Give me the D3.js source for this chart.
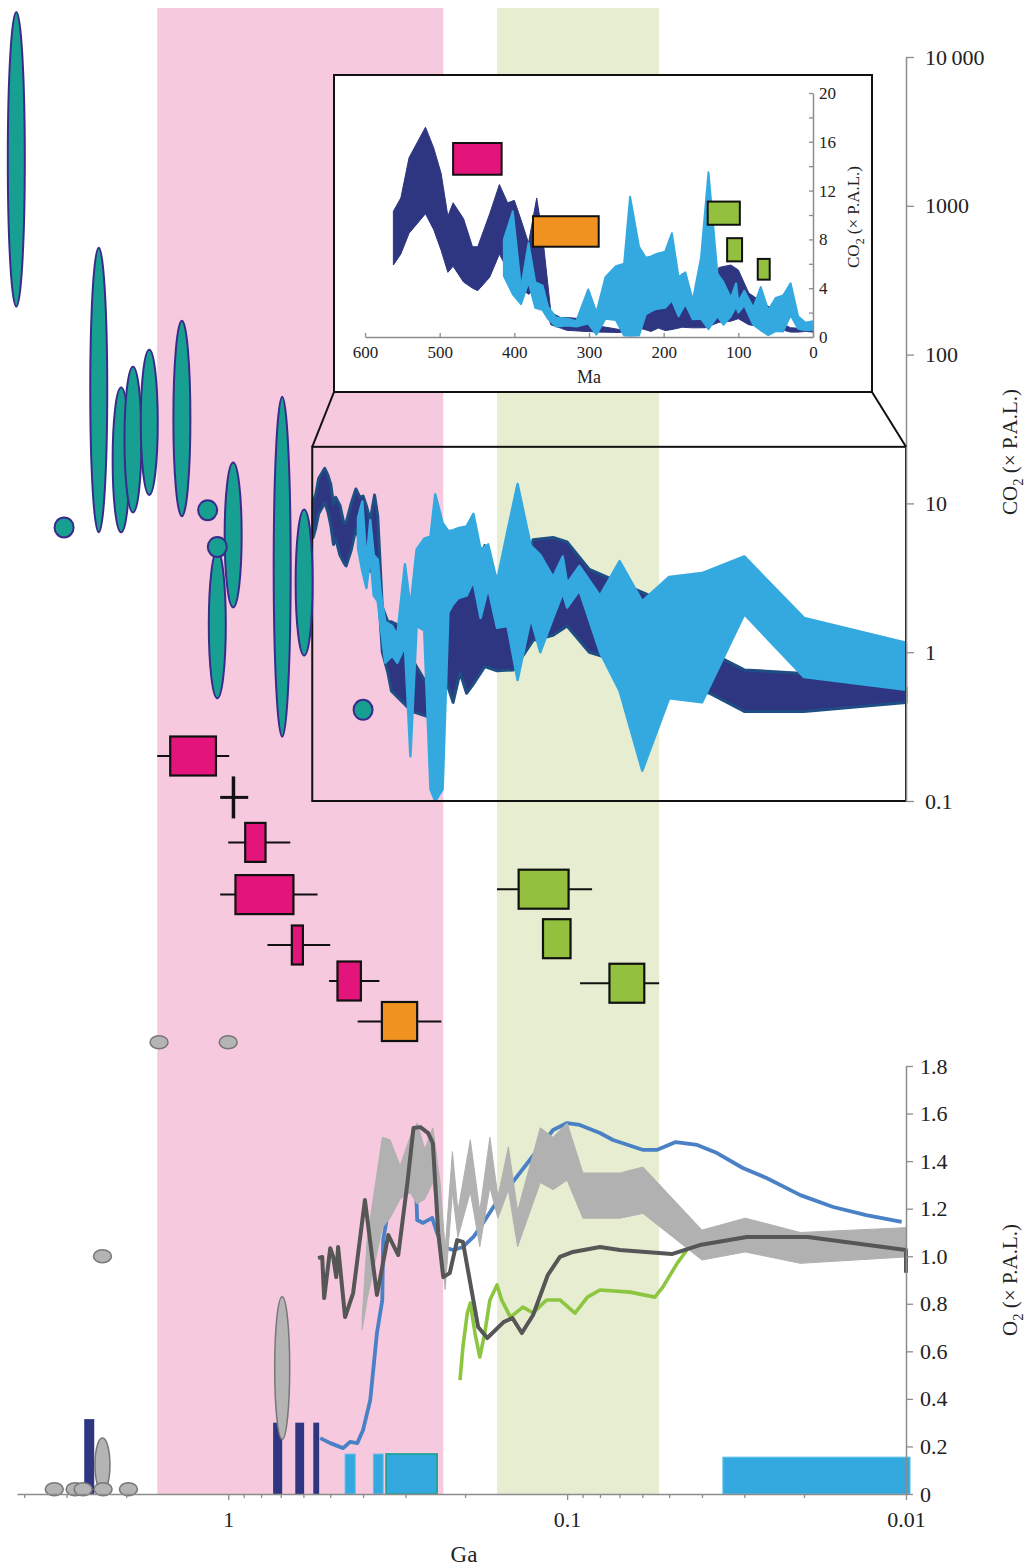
<!DOCTYPE html>
<html>
<head>
<meta charset="utf-8">
<script src="https://cdn.jsdelivr.net/npm/d3@7"></script>
<style>
  body { margin: 0; background: #fff; }
  svg { display: block; }
</style>
</head>
<body>
<svg id="chart"></svg>
<script>
const W = 1025, H = 1566
const FONT = '"Liberation Serif", "Times New Roman", serif'

// shaded intervals (Ga)
const pinkBand = [1.62, 0.232]
const greenBand = [0.161, 0.0535]

// CO2 estimates drawn as ellipses: [age Ga, low, high] (x P.A.L.)
const co2Ellipses = [
  [4.22, 210, 20100], [3.05, 6.9, 6.9], [2.41, 6.4, 523], [2.07, 6.4, 60],
  [1.91, 8.7, 83], [1.71, 11.4, 108], [1.37, 8.2, 169], [1.15, 9.0, 9.0],
  [0.967, 2.0, 18.8], [1.077, 0.49, 4.8], [1.077, 5.1, 5.1], [0.693, 0.27, 52],
  [0.597, 0.95, 9.1], [0.40, 0.41, 0.41]
]

// Phanerozoic CO2 model envelopes: [Ma, low, high]
const darkCO2 = [
  [562, 5.9, 10.3], [552, 6.8, 11.4], [541, 8.5, 14.7], [519, 10.1, 17.2], [508, 8.8, 15.5],
  [498, 7.1, 13.4], [489, 5.3, 9.9], [482, 5.8, 11.0], [468, 4.5, 9.7], [456, 4.0, 7.4],
  [449, 3.8, 7.4], [433, 4.9, 10.1], [420, 6.8, 12.5], [409, 5.5, 11.0], [400, 5.0, 11.2],
  [391, 4.0, 9.6], [381, 3.5, 7.7], [370, 4.0, 11.4], [362, 3.0, 8.2], [351, 1.0, 2.0],
  [338, 0.73, 1.6], [330, 0.55, 1.6], [311, 0.48, 1.5], [287, 0.4, 0.9], [258, 0.37, 0.6],
  [251, 0.5, 5.1], [245, 0.4, 1.0], [232, 0.73, 1.85], [217, 0.46, 2.2], [207, 0.73, 2.5],
  [198, 0.53, 2.9], [190, 0.6, 3.1], [175, 0.8, 5.2], [161, 0.75, 1.9], [144, 0.76, 1.4],
  [126, 1.2, 5.7], [110, 1.3, 5.9], [100, 1.5, 5.5], [86, 1.0, 3.6], [57, 0.75, 2.4],
  [38, 0.53, 1.0], [30, 0.40, 0.76], [20, 0.40, 0.72], [10, 0.46, 0.58], [0, 0.4, 0.8]
]
const lightCO2 = [
  [414, 5.0, 8.0], [402, 3.5, 10.3], [391, 2.7, 4.0], [381, 4.5, 7.7], [372, 2.4, 4.5],
  [362, 2.2, 4.2], [355, 1.5, 2.5], [344, 0.85, 1.6], [328, 0.95, 1.5], [317, 0.85, 1.3],
  [301, 1.1, 3.9], [290, 0.2, 2.0], [278, 1.5, 4.9], [264, 1.4, 5.8], [253, 0.12, 6.0],
  [245, 0.1, 11.5], [233, 0.12, 7.4], [224, 1.85, 6.5], [217, 2.1, 6.6], [210, 2.3, 6.8],
  [198, 2.4, 7.0], [189, 3.0, 8.5], [180, 1.7, 4.9], [171, 2.7, 5.3], [161, 1.46, 3.0],
  [150, 1.5, 6.5], [140, 0.65, 13.5], [128, 1.7, 5.2], [120, 1.0, 4.5], [110, 1.7, 3.2],
  [103, 2.5, 4.4], [100, 2.0, 2.9], [92, 2.6, 3.8], [80, 1.0, 2.4], [70, 0.55, 4.1],
  [60, 0.16, 2.2], [50, 0.49, 3.2], [40, 0.46, 3.4], [30, 1.8, 4.4], [20, 0.68, 1.7],
  [10, 0.56, 1.16], [0, 0.6, 1.3]
]

// dated events: box and whisker age ranges (Ga), row = stacking order
const events = [
  { box: [1.483, 1.087], whisker: [1.62, 0.993], row: 0, group: 'pink' },
  { box: [0.965, 0.965], whisker: [1.056, 0.873], row: 0.92, group: 'cross' },
  { box: [0.891, 0.776], whisker: [1.0, 0.656], row: 1.92, group: 'pink' },
  { box: [0.952, 0.642], whisker: [1.056, 0.545], row: 3.08, group: 'pink' },
  { box: [0.649, 0.602], whisker: [0.766, 0.5], row: 4.2, group: 'pink' },
  { box: [0.476, 0.406], whisker: [0.504, 0.358], row: 5.0, group: 'pink' },
  { box: [0.352, 0.277], whisker: [0.415, 0.235], row: 5.9, group: 'orange' },
  { box: [0.139, 0.099], whisker: [0.161, 0.0844], row: 2.96, group: 'green' },
  { box: [0.1178, 0.0977], whisker: null, row: 4.06, group: 'green' },
  { box: [0.075, 0.0592], whisker: [0.0916, 0.0535], row: 5.05, group: 'green' }
]

// same events in the inset: [group, Ma start, Ma end, CO2 low, CO2 high]
const insetBoxes = [
  ['pink', 482, 417, 13.3, 15.9],
  ['orange', 375, 287, 7.4, 9.9],
  ['green', 141, 98, 9.2, 11.1],
  ['green', 115, 95, 6.2, 8.1],
  ['green', 74, 58, 4.7, 6.4]
]

// O2 estimates: [age Ga, low, high] (x P.A.L.)
const o2Ovals = [
  [3.26, 0.02, 0.02], [2.83, 0.02, 0.02], [2.35, 0.01, 0.235], [2.68, 0.02, 0.02],
  [2.34, 0.02, 0.02], [1.97, 0.02, 0.02], [0.693, 0.23, 0.83], [2.35, 1.0, 1.0],
  [1.6, 1.9, 1.9], [1.0, 1.9, 1.9]
]
// O2 upper limits as bars: [age start, age end, O2]
const navyBars = [[2.66, 2.485, 0.315], [0.737, 0.693, 0.30], [0.634, 0.597, 0.30], [0.561, 0.539, 0.30]]
const blueBars = [[0.452, 0.422, 0.168], [0.373, 0.349, 0.168], [0.342, 0.242, 0.168], [0.0347, 0.00973, 0.155]]

// O2 model curves: [age Ga, O2]
const blueO2 = [
  [0.535, 0.235], [0.500, 0.214], [0.458, 0.193], [0.437, 0.219], [0.416, 0.214], [0.400, 0.269],
  [0.381, 0.395], [0.364, 0.677], [0.351, 0.816], [0.349, 1.068], [0.337, 1.194], [0.326, 1.249],
  [0.285, 1.278], [0.279, 1.291], [0.277, 1.152], [0.266, 1.140], [0.250, 1.161], [0.242, 1.098],
  [0.232, 1.039], [0.217, 1.026], [0.203, 1.039], [0.189, 1.081], [0.177, 1.140], [0.165, 1.207],
  [0.110, 1.531], [0.100, 1.560], [0.0917, 1.552], [0.080, 1.518], [0.0732, 1.489], [0.0596, 1.447],
  [0.0544, 1.447], [0.0478, 1.480], [0.0413, 1.468], [0.0361, 1.434], [0.0303, 1.371], [0.0258, 1.329],
  [0.0205, 1.257], [0.0164, 1.207], [0.0131, 1.173], [0.0103, 1.144]
]
const grayO2 = [
  [0.4025, 0.69, 0.74], [0.389, 0.82, 1.07], [0.351, 1.12, 1.50], [0.333, 1.16, 1.49],
  [0.311, 1.24, 1.38], [0.291, 1.27, 1.50], [0.277, 1.22, 1.56], [0.263, 1.24, 1.45],
  [0.249, 1.31, 1.54], [0.237, 1.10, 1.31], [0.229, 0.86, 1.03], [0.218, 1.27, 1.44],
  [0.210, 1.08, 1.19], [0.193, 1.27, 1.49], [0.181, 1.04, 1.19], [0.169, 1.29, 1.50],
  [0.160, 1.16, 1.25], [0.149, 1.28, 1.46], [0.140, 1.04, 1.19], [0.120, 1.31, 1.54],
  [0.110, 1.28, 1.50], [0.100, 1.32, 1.56], [0.0898, 1.16, 1.35], [0.0699, 1.16, 1.35],
  [0.0597, 1.18, 1.375], [0.0400, 0.984, 1.11], [0.0298, 1.018, 1.16], [0.0205, 0.97, 1.10],
  [0.0100, 0.997, 1.12]
]
const darkO2 = [
  [0.543, 0.992], [0.528, 0.997], [0.521, 0.824], [0.500, 1.034], [0.490, 0.997], [0.480, 0.912],
  [0.474, 1.039], [0.452, 0.744], [0.428, 0.845], [0.395, 1.236], [0.364, 0.837], [0.337, 1.089],
  [0.315, 1.005], [0.296, 1.308], [0.284, 1.539], [0.271, 1.543], [0.257, 1.518], [0.249, 1.476],
  [0.240, 1.098], [0.232, 0.912], [0.222, 0.929], [0.211, 1.068], [0.203, 1.060], [0.183, 0.702],
  [0.172, 0.656], [0.154, 0.723], [0.145, 0.740], [0.136, 0.677], [0.126, 0.753], [0.114, 0.921],
  [0.105, 0.997], [0.0962, 1.018], [0.080, 1.039], [0.0699, 1.026], [0.0491, 1.009], [0.0406, 1.047],
  [0.0295, 1.081], [0.0195, 1.081], [0.0100, 1.026], [0.0100, 0.93]
]
const greenO2 = [
  [0.207, 0.479], [0.203, 0.618], [0.197, 0.761], [0.193, 0.803], [0.187, 0.677], [0.181, 0.576],
  [0.175, 0.677], [0.169, 0.816], [0.161, 0.879], [0.156, 0.816], [0.147, 0.744], [0.135, 0.786],
  [0.126, 0.761], [0.115, 0.816], [0.105, 0.816], [0.0948, 0.761], [0.0871, 0.828], [0.080, 0.858],
  [0.0652, 0.849], [0.0551, 0.828], [0.0522, 0.870], [0.0473, 0.971], [0.0443, 1.026]
]

// axis labels
const gaLabels = [1, 0.1, 0.01]
const co2Ticks = [0.1, 1, 10, 100, 1000, 10000]
const co2Labels = ['0.1', '1', '10', '100', '1000', '10\u2009000']
const o2Ticks = [0, 0.2, 0.4, 0.6, 0.8, 1.0, 1.2, 1.4, 1.6, 1.8]
const maTicks = [600, 500, 400, 300, 200, 100, 0]
const insetCO2Ticks = [0, 2, 4, 6, 8, 10, 12, 14, 16, 18, 20]

// region of the main chart blown up in the inset
const zoomBox = { ga: [0.565, 0.01], co2: [0.1, 24] }

const colors = {
  pink: '#f7c9de', green: '#e6edd0',
  dark: '#2e3681', darkEdge: '#1f4e85', light: '#33a9e0',
  teal: '#17a092', tealEdge: '#3a2a8c',
  box: { pink: '#e3157b', orange: '#f0921f', green: '#93c13f' }
}

const svg = d3.select('#chart').attr('width', W).attr('height', H)

const x = d3.scaleLog().domain([4.2, 0.01]).range([17, 906])
const yCO2 = d3.scaleLog().domain([0.1, 10000]).range([801, 57])
const yO2 = d3.scaleLinear().domain([0, 1.8]).range([1494, 1066])
const row = d3.scaleLinear().domain([0, 1]).range([756, 801])

// shaded bands
svg.append('g').selectAll('rect')
  .data([[pinkBand, colors.pink], [greenBand, colors.green]])
  .join('rect')
    .attr('x', d => x(d[0][0]))
    .attr('width', d => x(d[0][1]) - x(d[0][0]))
    .attr('y', 8)
    .attr('height', yO2(0) - 8)
    .attr('fill', d => d[1])

// CO2 envelopes on the log/log main chart
const mainArea = d3.area()
  .x(d => x(d[0] / 1000))
  .y0(d => yCO2(d[1]))
  .y1(d => yCO2(d[2]))

svg.append('path')
  .datum(darkCO2.filter(d => d[0] >= 10))
  .attr('d', mainArea)
  .attr('fill', colors.dark)
  .attr('stroke', colors.darkEdge)
  .attr('stroke-width', 3)
  .attr('stroke-linejoin', 'round')

svg.append('path')
  .datum(lightCO2.filter(d => d[0] >= 10))
  .attr('d', mainArea)
  .attr('fill', colors.light)
  .attr('stroke', colors.light)
  .attr('stroke-width', 2.5)
  .attr('stroke-linejoin', 'round')

// zoom rectangle
const zx0 = x(zoomBox.ga[0]), zx1 = x(zoomBox.ga[1])
const zy0 = yCO2(zoomBox.co2[1]), zy1 = yCO2(zoomBox.co2[0])
svg.append('rect')
  .attr('x', zx0).attr('y', zy0)
  .attr('width', zx1 - zx0).attr('height', zy1 - zy0)
  .attr('fill', 'none').attr('stroke', '#111').attr('stroke-width', 2)

// CO2 ellipses
svg.append('g').selectAll('ellipse')
  .data(co2Ellipses)
  .join('ellipse')
    .attr('cx', d => x(d[0]))
    .attr('cy', d => (yCO2(d[1]) + yCO2(d[2])) / 2)
    .attr('rx', d => d[1] === d[2] ? 9.5 : 8.5)
    .attr('ry', d => Math.max((yCO2(d[1]) - yCO2(d[2])) / 2, 10))
    .attr('fill', colors.teal)
    .attr('stroke', colors.tealEdge)
    .attr('stroke-width', 2)

// event boxes with whiskers
const gEv = svg.append('g').attr('stroke', '#111')
gEv.selectAll('line.wh')
  .data(events.filter(d => d.whisker))
  .join('line')
    .attr('class', 'wh')
    .attr('x1', d => x(d.whisker[0])).attr('x2', d => x(d.whisker[1]))
    .attr('y1', d => row(d.row)).attr('y2', d => row(d.row))
    .attr('stroke-width', d => d.group === 'cross' ? 3 : 2)

gEv.selectAll('line.cr')
  .data(events.filter(d => d.box[0] === d.box[1]))
  .join('line')
    .attr('class', 'cr')
    .attr('x1', d => x(d.box[0])).attr('x2', d => x(d.box[0]))
    .attr('y1', d => row(d.row) - 21).attr('y2', d => row(d.row) + 21)
    .attr('stroke-width', 3.5)

gEv.selectAll('rect')
  .data(events.filter(d => d.box[0] !== d.box[1]))
  .join('rect')
    .attr('x', d => x(d.box[0]))
    .attr('width', d => x(d.box[1]) - x(d.box[0]))
    .attr('y', d => row(d.row) - 19.5)
    .attr('height', 39)
    .attr('fill', d => colors.box[d.group])
    .attr('stroke-width', 2.2)

// O2 upper-limit bars
svg.append('g').selectAll('rect')
  .data(navyBars)
  .join('rect')
    .attr('x', d => x(d[0])).attr('width', d => x(d[1]) - x(d[0]))
    .attr('y', d => yO2(d[2])).attr('height', d => yO2(0) - yO2(d[2]))
    .attr('fill', colors.dark)

svg.append('g').selectAll('rect')
  .data(blueBars)
  .join('rect')
    .attr('x', d => x(d[0])).attr('width', d => x(d[1]) - x(d[0]))
    .attr('y', d => yO2(d[2])).attr('height', d => yO2(0) - yO2(d[2]))
    .attr('fill', colors.light)
    .attr('stroke', (d, i) => i === 2 ? '#1aa597' : '#5cc1ea')
    .attr('stroke-width', (d, i) => i === 2 ? 1.8 : 1)

// O2 estimate ovals
svg.append('g').selectAll('ellipse')
  .data(o2Ovals)
  .join('ellipse')
    .attr('cx', d => x(d[0]))
    .attr('cy', d => (yO2(d[1]) + yO2(d[2])) / 2)
    .attr('rx', d => d[1] === d[2] ? 9 : 7.5)
    .attr('ry', d => Math.max((yO2(d[1]) - yO2(d[2])) / 2, 6.5))
    .attr('fill', '#b4b4b4')
    .attr('stroke', '#777')
    .attr('stroke-width', 1.5)

// O2 curves
const o2Line = d3.line().x(d => x(d[0])).y(d => yO2(d[1]))

svg.append('path').datum(blueO2).attr('d', o2Line)
  .attr('fill', 'none').attr('stroke', '#4a80c5').attr('stroke-width', 3.8)
  .attr('stroke-linejoin', 'round')

svg.append('path').datum(grayO2)
  .attr('d', d3.area().x(d => x(d[0])).y0(d => yO2(d[1])).y1(d => yO2(d[2])))
  .attr('fill', '#b1b1b1').attr('stroke', '#b1b1b1').attr('stroke-width', 1)

svg.append('path').datum(greenO2).attr('d', o2Line)
  .attr('fill', 'none').attr('stroke', '#8cc640').attr('stroke-width', 3.6)
  .attr('stroke-linejoin', 'round')

svg.append('path').datum(darkO2).attr('d', o2Line)
  .attr('fill', 'none').attr('stroke', '#565656').attr('stroke-width', 4)
  .attr('stroke-linejoin', 'round')

// axes
function styleAxis(g, size) {
  g.attr('font-family', FONT).attr('font-size', size)
  g.select('.domain').attr('stroke', '#8c8c8c').attr('stroke-width', 1.5)
  g.selectAll('.tick line').attr('stroke', '#8c8c8c').attr('stroke-width', 1.3)
  g.selectAll('.tick text').attr('fill', '#222')
}

const isLabel = d => gaLabels.find(v => Math.abs(v - d) / v < 1e-6)

const xAxis = d3.axisBottom(x)
  .tickValues(x.ticks())
  .tickSize(4)
  .tickSizeOuter(0)
  .tickPadding(13)
  .tickFormat(d => isLabel(d) ? String(isLabel(d)) : '')

svg.append('g')
  .attr('transform', `translate(0, ${yO2(0)})`)
  .call(xAxis)
  .call(g => styleAxis(g, 22))
  .call(g => g.selectAll('.tick line').filter(d => isLabel(d)).attr('y2', 6))

svg.append('g')
  .attr('transform', `translate(${x(0.01)}, 0)`)
  .call(d3.axisRight(yCO2).tickValues(co2Ticks).tickSize(8).tickSizeOuter(0).tickPadding(11)
    .tickFormat((d, i) => co2Labels[i]))
  .call(g => styleAxis(g, 22))

svg.append('g')
  .attr('transform', `translate(${x(0.01)}, 0)`)
  .call(d3.axisRight(yO2).tickValues(o2Ticks).tickSize(7).tickSizeOuter(0).tickPadding(7)
    .tickFormat(d => d === 0 ? '0' : d3.format('.1f')(d)))
  .call(g => styleAxis(g, 22))

// axis titles
svg.append('text')
  .attr('x', 464).attr('y', 1562)
  .attr('text-anchor', 'middle')
  .attr('font-family', FONT).attr('font-size', 23).attr('fill', '#222')
  .text('Ga')

function gasTitle(g, cx, cy, gas, size) {
  const t = g.append('text')
    .attr('transform', `translate(${cx}, ${cy}) rotate(-90)`)
    .attr('text-anchor', 'middle')
    .attr('font-family', FONT).attr('font-size', size).attr('fill', '#222')
  t.append('tspan').text(gas)
  t.append('tspan').attr('font-size', size * 0.7).attr('dy', size * 0.28).text('2')
  t.append('tspan').attr('dy', -size * 0.28).text(' (\u00d7 P.A.L.)')
}
gasTitle(svg, 1017, 452, 'CO', 21)
gasTitle(svg, 1017, 1280, 'O', 21)

// inset: linear Phanerozoic view
const inset = svg.append('g')
inset.append('rect')
  .attr('x', 334).attr('y', 75).attr('width', 538).attr('height', 317)
  .attr('fill', '#fff').attr('stroke', '#111').attr('stroke-width', 2)

const xi = d3.scaleLinear().domain([600, 0]).range([365, 813])
const yi = d3.scaleLinear().domain([0, 20]).range([337, 93])
const insetArea = d3.area().x(d => xi(d[0])).y0(d => yi(d[1])).y1(d => yi(d[2]))

inset.append('path').datum(darkCO2).attr('d', insetArea)
  .attr('fill', colors.dark).attr('stroke', colors.dark).attr('stroke-width', 1)
inset.append('path').datum(lightCO2).attr('d', insetArea)
  .attr('fill', colors.light).attr('stroke', colors.light).attr('stroke-width', 2)
  .attr('stroke-linejoin', 'round')

inset.append('g').selectAll('rect')
  .data(insetBoxes)
  .join('rect')
    .attr('x', d => xi(d[1])).attr('width', d => xi(d[2]) - xi(d[1]))
    .attr('y', d => yi(d[4])).attr('height', d => yi(d[3]) - yi(d[4]))
    .attr('fill', d => colors.box[d[0]])
    .attr('stroke', '#111').attr('stroke-width', 2)

inset.append('g')
  .attr('transform', `translate(0, ${yi(0)})`)
  .call(d3.axisBottom(xi).tickValues(maTicks).tickSizeInner(-4).tickSizeOuter(0).tickPadding(9))
  .call(g => styleAxis(g, 17))

inset.append('g')
  .attr('transform', `translate(${xi(0)}, 0)`)
  .call(d3.axisRight(yi).tickValues(insetCO2Ticks).tickSizeInner(-4).tickSizeOuter(0).tickPadding(6)
    .tickFormat(d => d % 4 === 0 ? d : ''))
  .call(g => styleAxis(g, 17))

inset.append('text')
  .attr('x', 589).attr('y', 383)
  .attr('text-anchor', 'middle')
  .attr('font-family', FONT).attr('font-size', 18).attr('fill', '#222')
  .text('Ma')

gasTitle(inset, 859, 217, 'CO', 17)

// connectors from zoom rectangle to inset
svg.append('g').attr('stroke', '#111').attr('stroke-width', 2)
  .selectAll('line')
  .data([[zx0, zy0, 334, 392], [zx1, zy0, 872, 392]])
  .join('line')
    .attr('x1', d => d[0]).attr('y1', d => d[1])
    .attr('x2', d => d[2]).attr('y2', d => d[3])
</script>
</body>
</html>
